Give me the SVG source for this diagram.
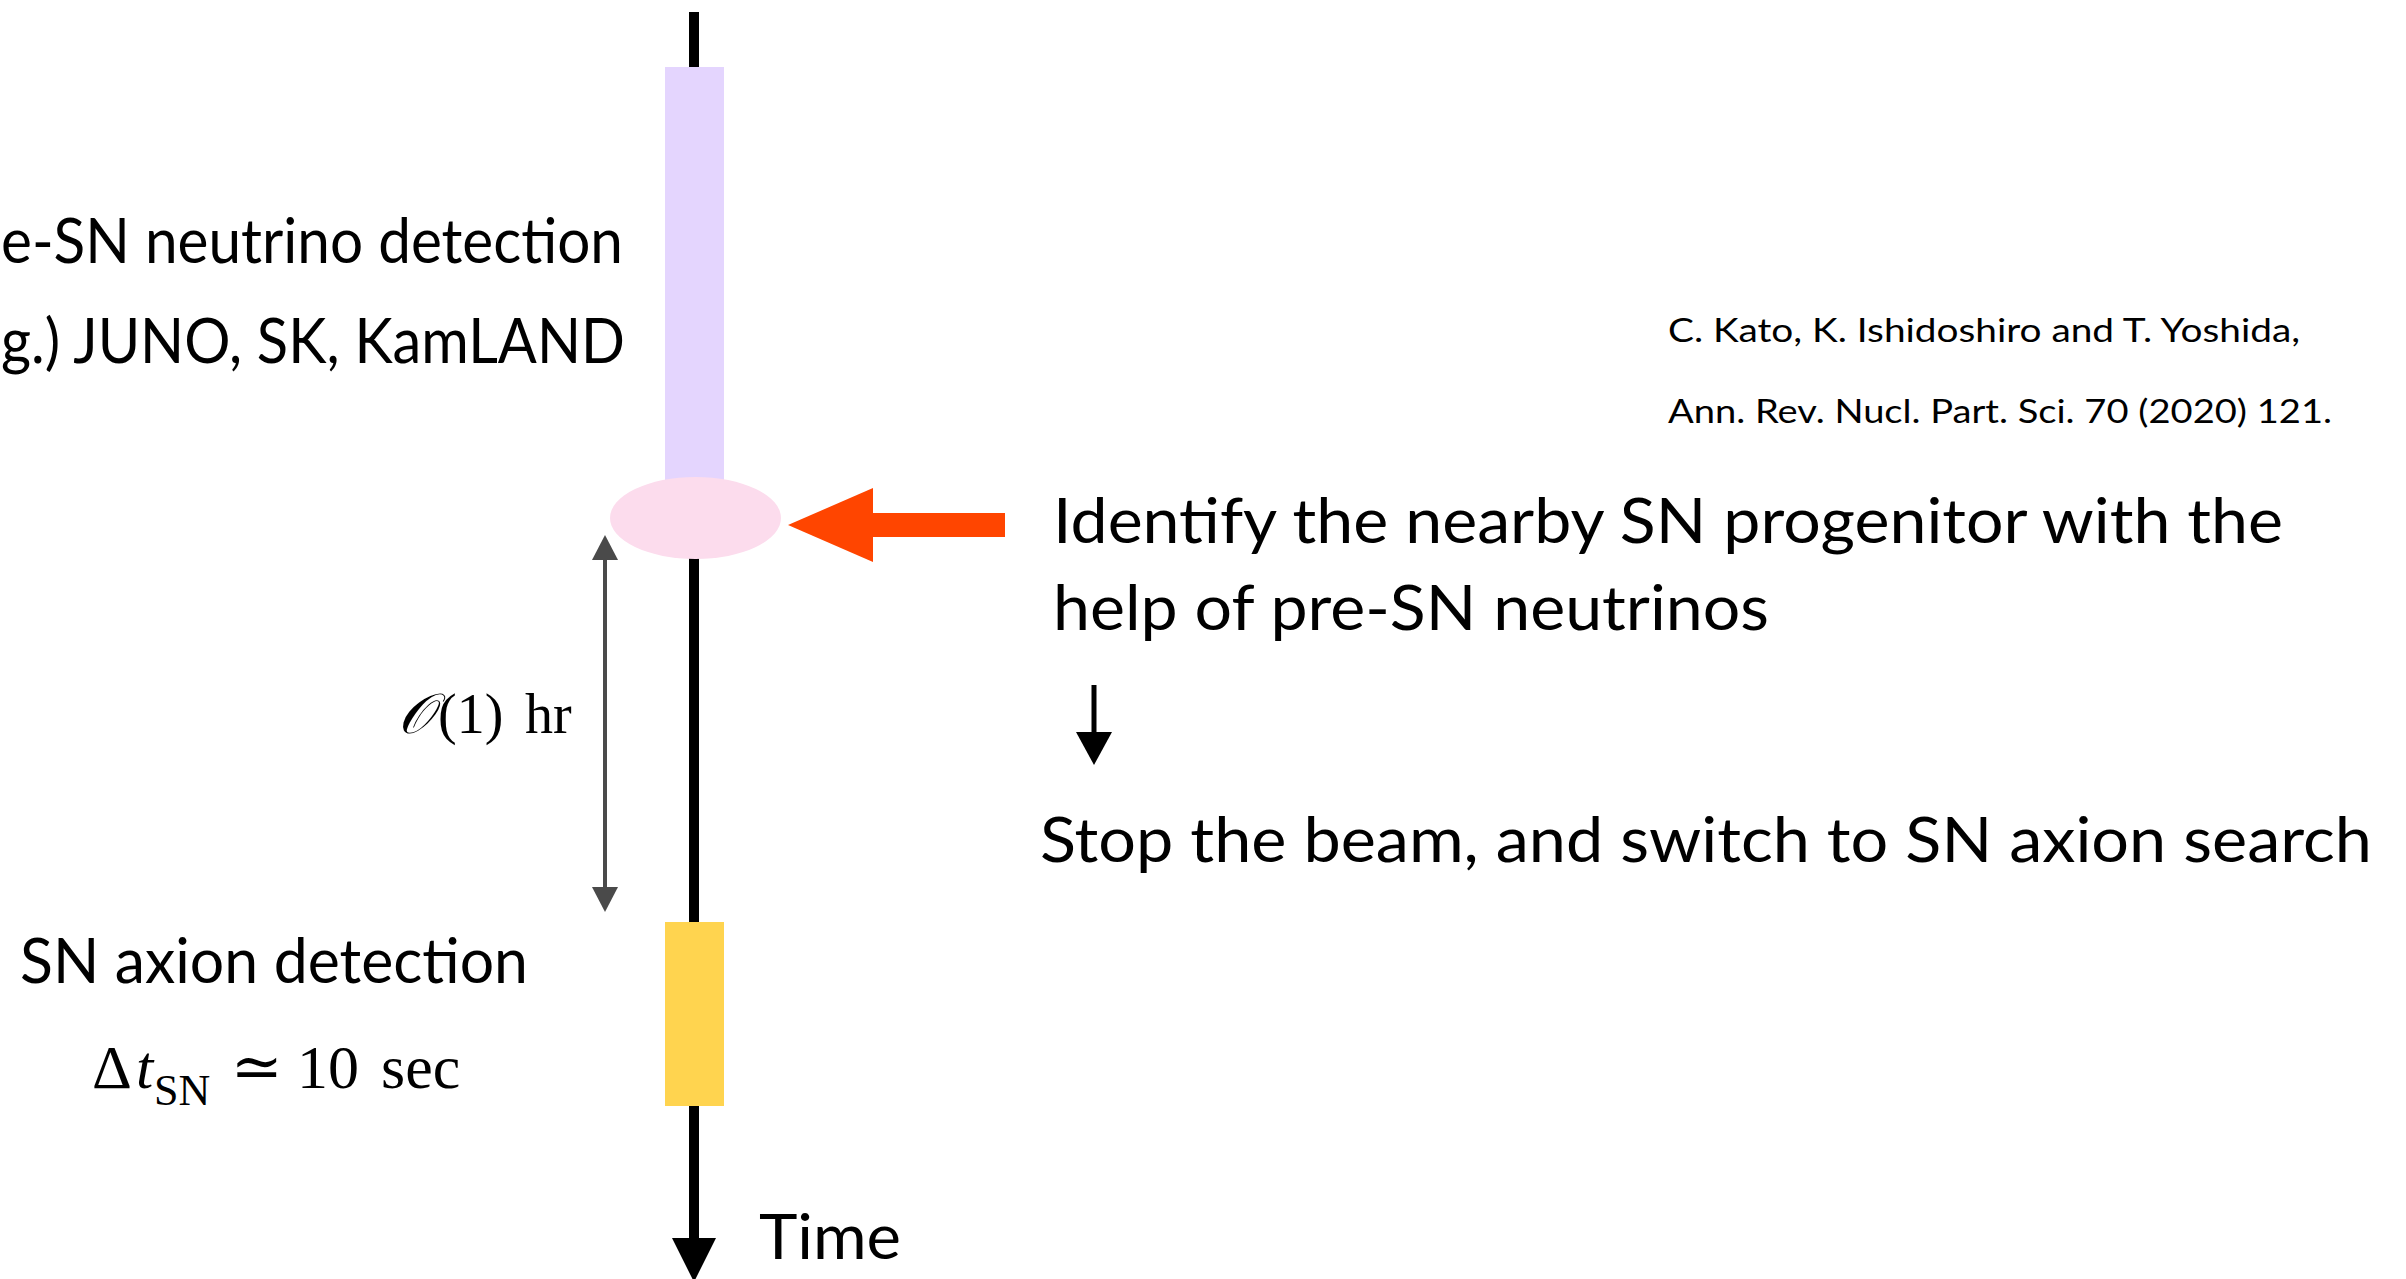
<svg xmlns="http://www.w3.org/2000/svg" width="2406" height="1279" viewBox="0 0 2406 1279">
  <style>
    .sans { font-family: Lato, "Noto Sans", "Liberation Sans", sans-serif; fill: #000; }
    .main { font-size: 62px; }
    .cite { font-size: 32px; }
    .math { font-family: "Liberation Serif", "DejaVu Serif", serif; fill: #000; }
    .timeline { stroke: #000; stroke-width: 10; fill: none; }
    .gray { stroke: #4a4a4a; stroke-width: 4; fill: none; }
  </style>
  <rect x="0" y="0" width="2406" height="1279" fill="#ffffff"/>

  <g id="connectors">
    <g id="time-axis">
      <line class="timeline" x1="694" y1="12" x2="694" y2="1240"/>
      <polygon points="672,1238 716,1238 694,1282" fill="#000"/>
    </g>
    <g id="interval-arrow">
      <line class="gray" x1="605" y1="558" x2="605" y2="889"/>
      <polygon points="605,535 592,560 618,560" fill="#4a4a4a"/>
      <polygon points="605,912 592,887 618,887" fill="#4a4a4a"/>
    </g>
    <g id="identify-arrow">
      <rect x="871" y="513" width="134" height="24" fill="#ff4500"/>
      <polygon points="788,525 873,488 873,562" fill="#ff4500"/>
    </g>
    <g id="then-arrow">
      <line x1="1094" y1="685" x2="1094" y2="735" stroke="#000" stroke-width="5"/>
      <polygon points="1094,765 1076,732 1112,732" fill="#000"/>
    </g>
  </g>

  <g id="pre-sn-band">
    <rect x="665" y="67" width="59" height="420" fill="#e4d5fe"/>
  </g>
  <g id="progenitor">
    <ellipse cx="695.5" cy="518" rx="85.5" ry="41" fill="#fcdced"/>
  </g>
  <g id="sn-band">
    <rect x="665" y="922" width="59" height="184" fill="#ffd44f"/>
  </g>

  <g id="pre-sn-label">
    <text class="sans main" x="1" y="263" textLength="622" lengthAdjust="spacingAndGlyphs">e-SN neutrino detection</text>
    <text class="sans main" x="1" y="363" textLength="624" lengthAdjust="spacingAndGlyphs">g.) JUNO, SK, KamLAND</text>
  </g>

  <g id="citation">
    <text class="sans cite" x="1668" y="342" textLength="632" lengthAdjust="spacingAndGlyphs">C. Kato, K. Ishidoshiro and T. Yoshida,</text>
    <text class="sans cite" x="1668" y="423" textLength="664" lengthAdjust="spacingAndGlyphs">Ann. Rev. Nucl. Part. Sci. 70 (2020) 121.</text>
  </g>

  <g id="identify-label">
    <text class="sans main" x="1053" y="543" textLength="1230" lengthAdjust="spacingAndGlyphs">Identify the nearby SN progenitor with the</text>
    <text class="sans main" x="1053" y="630" textLength="716" lengthAdjust="spacingAndGlyphs">help of pre-SN neutrinos</text>
  </g>

  <g id="action-label">
    <text class="sans main" x="1040" y="862" textLength="1332" lengthAdjust="spacingAndGlyphs">Stop the beam, and switch to SN axion search</text>
  </g>

  <g id="interval-label">
    <text class="math" y="733" font-size="56"><tspan x="398" font-style="italic">𝒪</tspan><tspan x="438">(1)</tspan><tspan x="525">hr</tspan></text>
  </g>

  <g id="sn-axion-label">
    <text class="sans main" x="20" y="983" textLength="508" lengthAdjust="spacingAndGlyphs">SN axion detection</text>
    <text class="math" y="1088" font-size="62"><tspan x="92">Δ</tspan><tspan x="136" font-style="italic">t</tspan><tspan x="154" y="1105" font-size="44">SN</tspan><tspan x="231" y="1088">≃</tspan><tspan x="297">10</tspan><tspan x="381">sec</tspan></text>
  </g>

  <g id="time-label">
    <text class="sans main" x="759" y="1259" textLength="142" lengthAdjust="spacingAndGlyphs">Time</text>
  </g>
</svg>
